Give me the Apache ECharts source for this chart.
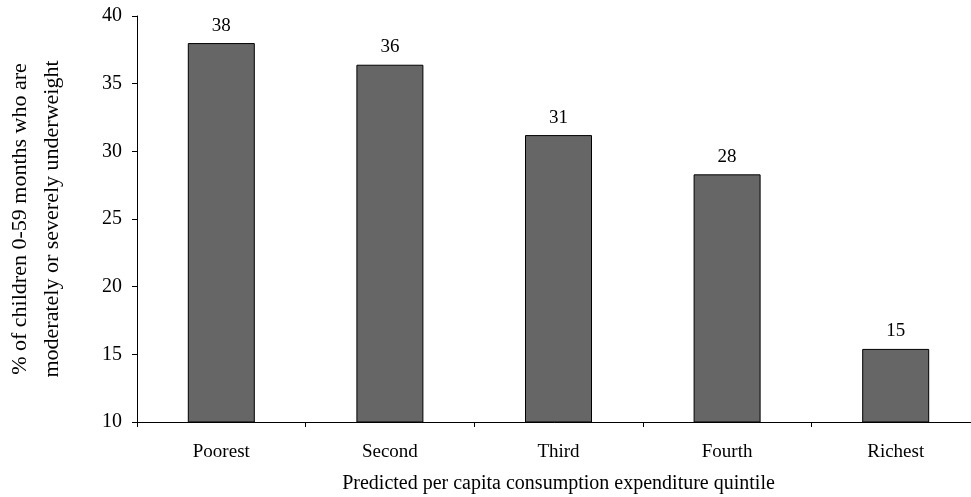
<!DOCTYPE html>
<html>
<head>
<meta charset="utf-8">
<script src="https://cdn.jsdelivr.net/npm/echarts@6/dist/echarts.min.js"></script>
<style>
  html, body { margin: 0; padding: 0; background: #fff; }
  #chart { width: 971px; height: 497px; }
</style>
</head>
<body>
<div id="chart"></div>
<script>
// Underweight prevalence by predicted consumption quintile
const quintiles = ['Poorest', 'Second', 'Third', 'Fourth', 'Richest'];
const underweightPct = [38.0, 36.4, 31.2, 28.3, 15.4];
const yTicks = { min: 10, max: 40, step: 5 };

const serif = '"Liberation Serif", "DejaVu Serif", serif';

const chart = echarts.init(document.getElementById('chart'), null, { renderer: 'canvas' });
chart.setOption({
  animation: false,
  backgroundColor: '#ffffff',
  grid: { left: 137, right: -9, top: 16, bottom: 75, containLabel: false, outerBoundsMode: 'none' },
  xAxis: {
    type: 'category',
    data: quintiles,
    name: 'Predicted per capita consumption expenditure quintile',
    nameLocation: 'middle',
    nameGap: 52,
    nameTextStyle: { fontFamily: serif, fontSize: 20, color: '#000' },
    axisLine: { lineStyle: { color: '#000', width: 1 } },
    axisTick: { show: true, length: 5, inside: false, alignWithLabel: false, lineStyle: { color: '#000' } },
    axisLabel: { fontFamily: serif, fontSize: 19, color: '#000', margin: 21 },
    splitLine: { show: false }
  },
  yAxis: {
    type: 'value',
    min: yTicks.min,
    max: yTicks.max,
    interval: yTicks.step,
    name: '% of children 0-59 months who are\nmoderately or severely underweight',
    nameLocation: 'middle',
    nameRotate: 90,
    nameGap: 69,
    nameTextStyle: { fontFamily: serif, fontSize: 22, color: '#000', lineHeight: 32 },
    axisLine: { show: true, lineStyle: { color: '#000', width: 1 } },
    axisTick: { show: true, length: 5, lineStyle: { color: '#000' } },
    axisLabel: { fontFamily: serif, fontSize: 20, color: '#000', margin: 15 },
    splitLine: { show: false }
  },
  series: [{
    type: 'bar',
    data: underweightPct,
    barWidth: 67,
    itemStyle: { color: '#666666', borderColor: '#000', borderWidth: 1 },
    label: {
      show: true,
      position: 'top',
      distance: 8,
      fontFamily: serif,
      fontSize: 19,
      color: '#000',
      formatter: p => Math.round(p.value)
    }
  }]
});
</script>
</body>
</html>
